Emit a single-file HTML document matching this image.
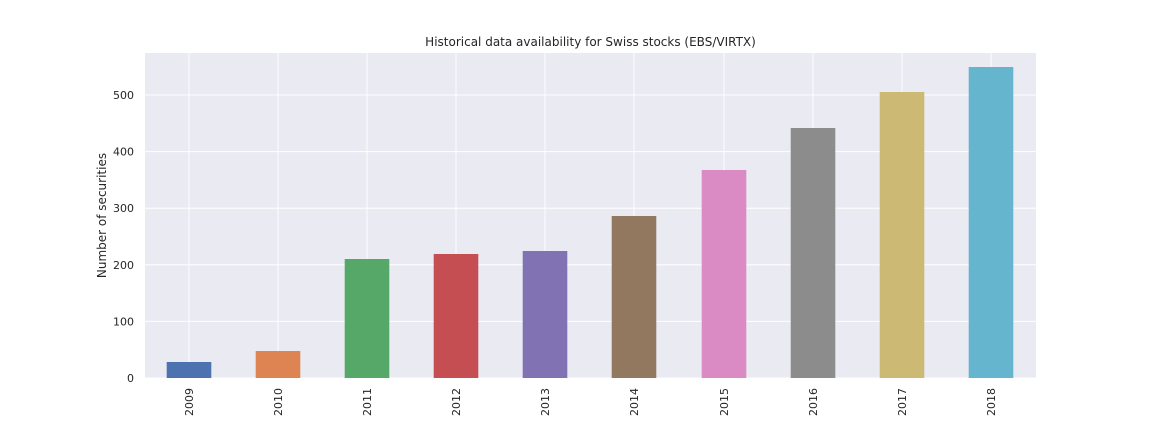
<!DOCTYPE html>
<html><head><style>body{margin:0;background:#fff}</style></head><body>
<svg width="1152" height="432" xmlns="http://www.w3.org/2000/svg" font-family="'DejaVu Sans','Liberation Sans',sans-serif">
<rect x="145" y="53" width="891" height="325" fill="#eaeaf2"/>
<g stroke="#fff" stroke-width="1">
<line x1="145" x2="1036" y1="378" y2="378"/>
<line x1="145" x2="1036" y1="321.4" y2="321.4"/>
<line x1="145" x2="1036" y1="264.8" y2="264.8"/>
<line x1="145" x2="1036" y1="208.2" y2="208.2"/>
<line x1="145" x2="1036" y1="151.6" y2="151.6"/>
<line x1="145" x2="1036" y1="95" y2="95"/>
<line x1="189" x2="189" y1="53" y2="378"/>
<line x1="278" x2="278" y1="53" y2="378"/>
<line x1="367" x2="367" y1="53" y2="378"/>
<line x1="456" x2="456" y1="53" y2="378"/>
<line x1="545" x2="545" y1="53" y2="378"/>
<line x1="634" x2="634" y1="53" y2="378"/>
<line x1="724" x2="724" y1="53" y2="378"/>
<line x1="813" x2="813" y1="53" y2="378"/>
<line x1="902" x2="902" y1="53" y2="378"/>
<line x1="991" x2="991" y1="53" y2="378"/>
</g>
<rect x="166.7" y="362" width="44.6" height="16" fill="#4c72b0"/>
<rect x="255.7" y="351" width="44.6" height="27" fill="#dd8452"/>
<rect x="344.7" y="259" width="44.6" height="119" fill="#55a868"/>
<rect x="433.7" y="254" width="44.6" height="124" fill="#c44e52"/>
<rect x="522.7" y="251" width="44.6" height="127" fill="#8172b3"/>
<rect x="611.7" y="216" width="44.6" height="162" fill="#937860"/>
<rect x="701.7" y="170" width="44.6" height="208" fill="#da8bc3"/>
<rect x="790.7" y="128" width="44.6" height="250" fill="#8c8c8c"/>
<rect x="879.7" y="92" width="44.6" height="286" fill="#ccb974"/>
<rect x="968.7" y="67" width="44.6" height="311" fill="#64b5cd"/>
<g font-size="11" fill="#262626" text-anchor="end">
<text x="134" y="382">0</text>
<text x="134" y="325.4">100</text>
<text x="134" y="268.8">200</text>
<text x="134" y="212.2">300</text>
<text x="134" y="155.6">400</text>
<text x="134" y="99">500</text>
</g>
<g font-size="11" fill="#262626" text-anchor="end">
<text transform="translate(193,388) rotate(-90)">2009</text>
<text transform="translate(282,388) rotate(-90)">2010</text>
<text transform="translate(371,388) rotate(-90)">2011</text>
<text transform="translate(460,388) rotate(-90)">2012</text>
<text transform="translate(549,388) rotate(-90)">2013</text>
<text transform="translate(638,388) rotate(-90)">2014</text>
<text transform="translate(728,388) rotate(-90)">2015</text>
<text transform="translate(817,388) rotate(-90)">2016</text>
<text transform="translate(906,388) rotate(-90)">2017</text>
<text transform="translate(995,388) rotate(-90)">2018</text>
</g>
<text x="590.5" y="46" font-size="12" fill="#262626" text-anchor="middle">Historical data availability for Swiss stocks (EBS/VIRTX)</text>
<text transform="translate(106,215.5) rotate(-90)" font-size="12" fill="#262626" text-anchor="middle">Number of securities</text>
</svg>
</body></html>
